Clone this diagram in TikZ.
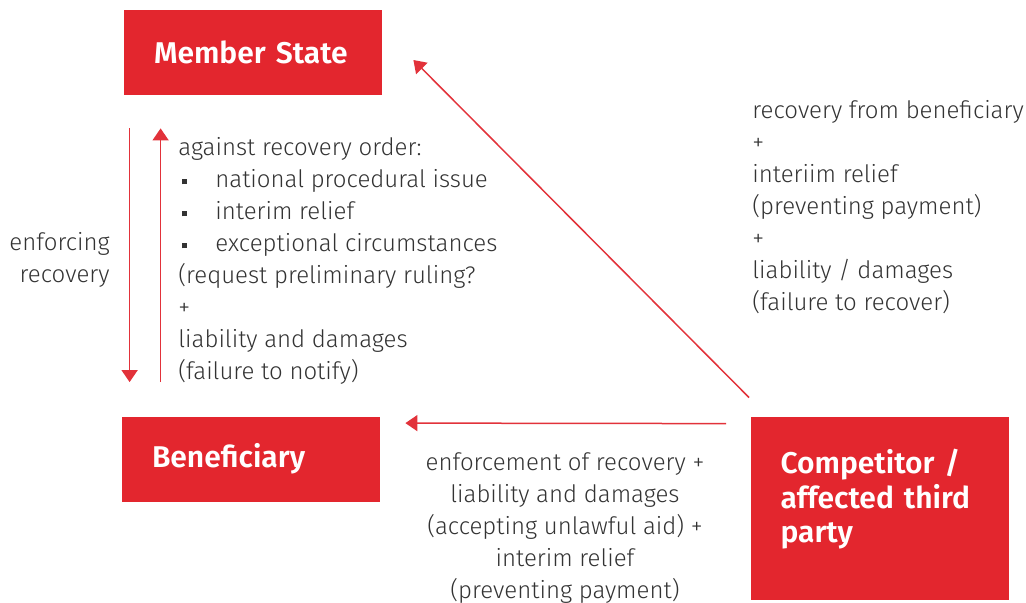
\documentclass[tikz,border=0pt]{standalone}
\usepackage{fontspec}
\setmainfont{Fira Sans}[UprightFont=* Light, BoldFont=* SemiBold]
\usetikzlibrary{arrows.meta}
\definecolor{boxRed}{RGB}{227,38,46}
\definecolor{arrowRed}{RGB}{226,50,58}

\tikzset{
  party/.style={fill=boxRed,text=white,font=\fontsize{15}{17.25}\selectfont\bfseries,
    minimum width=129pt,minimum height=42.5pt,inner xsep=15pt,inner ysep=0pt,
    text width=99pt,align=left},
  remark/.style={font=\fontsize{12}{16}\selectfont,inner sep=0pt,text=black!80},
  link/.style={draw=arrowRed,line width=0.75pt,-{Triangle[length=6pt,width=8pt]}}
}
\newcommand{\sqbullet}{\makebox[18.5pt][l]{\hspace{2pt}\raisebox{1.5pt}{\rule{2.5pt}{2.5pt}}}}

\begin{document}
\begin{tikzpicture}[x=0.5pt,y=-0.5pt]
\useasboundingbox (0,0) rectangle (1026,603);

% Parties
\node[party] (ms) at (253,52.5) {Member State};
\node[party] (ben) at (251,459) {Beneficiary};
\node[party,minimum width=128.5pt,minimum height=91.5pt] (comp) at (879.5,508.5) {Competitor /\\affected third\\party\\[-5pt]\mbox{}};

% Member State <-> Beneficiary
\draw[link,shorten <=16.5pt,shorten >=17pt] ([xshift=3pt]ms.south west) -- ([xshift=4pt]ben.north west);
\draw[link,shorten <=17pt,shorten >=16.5pt] ([xshift=19.5pt]ben.north west) -- ([xshift=18.5pt]ms.south west);
\node[remark,anchor=east,align=right] (enf) at (110,260) {enforcing\\recovery};
\node[remark,anchor=north west,align=left] (order) at (178,137) {against recovery order:\\
  \sqbullet national procedural issue\\
  \sqbullet interim relief\\
  \sqbullet exceptional circumstances\\
  (request preliminary ruling?\\
  +\\
  liability and damages\\
  (failure to notify)};

% Competitor claims
\draw[link] ([xshift=-0.5pt,yshift=9.5pt]comp.north west) -- ([xshift=15.5pt,yshift=-3.75pt]ms.east);
\draw[link] ([xshift=-12pt,yshift=-3.5pt]comp.north west) -- ([xshift=12.5pt,yshift=-3.5pt]ben.north east);
\node[remark,anchor=north west,align=left] (vsms) at (752,100) {recovery from beneficiary\\+\\interiim relief\\(preventing payment)\\+\\liability / damages\\(failure to recover)};
\node[remark,anchor=north,align=center] (vsben) at (565,452) {enforcement of recovery +\\liability and damages\\(accepting unlawful aid) +\\interim relief\\(preventing payment)};
\end{tikzpicture}
\end{document}
